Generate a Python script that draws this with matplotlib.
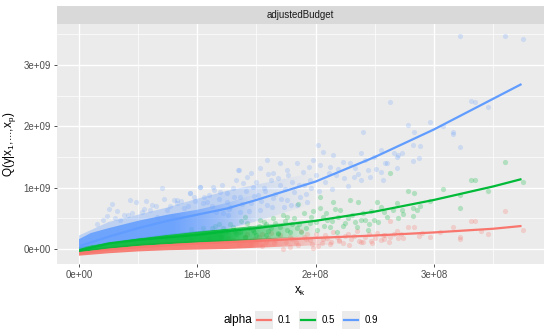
import numpy as np
import matplotlib
matplotlib.use("Agg")
import matplotlib.pyplot as plt
from matplotlib.lines import Line2D
from matplotlib.patches import Rectangle, Polygon
from matplotlib.colors import to_rgb

plt.rcParams['font.family'] = ['Liberation Sans', 'DejaVu Sans']

XS = 1e8
YS = 1e9

# ---------------- data (x in 1e8, y in 1e9) ----------------
quantiles = ["0.1", "0.5", "0.9"]
colors = {"0.1": "#F8766D", "0.5": "#00BA38", "0.9": "#619CFF"}

# fitted quantile curves
line_x = [0.01, 0.25, 0.5, 0.75, 1.0, 1.25, 1.5, 2.0, 2.5, 3.0, 3.5, 3.74]
line_q10 = [-0.07, -0.01, 0.03, 0.06, 0.09, 0.11, 0.13, 0.18, 0.22, 0.27, 0.33, 0.375]
line_q50 = [-0.02, 0.09, 0.15, 0.19, 0.23, 0.29, 0.34, 0.46, 0.61, 0.80, 1.02, 1.14]
line_q90 = [0.05, 0.20, 0.34, 0.46, 0.56, 0.66, 0.80, 1.10, 1.50, 1.95, 2.45, 2.69]

# dense (overplotted) cores of the point clouds
red_core_x = [0.0, 0.25, 0.5, 0.75, 1.0, 1.25, 1.5, 1.75, 2.0, 2.2]
red_core_lo = [-0.11, -0.07, -0.04, -0.02, -0.01, 0.0, 0.02, 0.04, 0.06, 0.08]
red_core_hi = [-0.02, 0.03, 0.08, 0.11, 0.13, 0.15, 0.17, 0.19, 0.21, 0.22]

green_core_x = [0.0, 0.25, 0.5, 0.75, 1.0, 1.25, 1.5, 1.75, 2.0]
green_core_lo = [-0.05, 0.0, 0.05, 0.08, 0.10, 0.12, 0.15, 0.18, 0.22]
green_core_hi = [0.03, 0.11, 0.18, 0.24, 0.29, 0.33, 0.38, 0.43, 0.48]

blue_core_x = [0.0, 0.1, 0.25, 0.5, 0.75, 1.0, 1.25, 1.5]
blue_core_lo = [0.0, 0.06, 0.10, 0.17, 0.23, 0.28, 0.33, 0.45]
blue_core_hi = [0.16, 0.26, 0.34, 0.46, 0.56, 0.64, 0.75, 0.90]

blue_halo_x = [0.0, 0.25, 0.5, 0.75, 1.0, 1.25, 1.5, 1.75, 2.0]
blue_halo_lo = [0.0, 0.10, 0.17, 0.23, 0.28, 0.33, 0.45, 0.60, 0.75]
blue_halo_hi = [0.22, 0.44, 0.56, 0.68, 0.82, 0.95, 1.05, 1.15, 1.25]

# individual (sparse) points
red_px = [1.30, 1.35, 1.40, 1.45, 1.50, 1.55, 1.60, 1.65, 1.70, 1.75, 1.80, 1.85,
          1.90, 1.95, 2.00, 2.05, 2.10, 2.15, 2.20, 2.25, 2.30, 2.35, 2.40, 2.45,
          2.50, 2.55, 1.88, 1.62, 2.02, 1.72, 1.55, 1.42, 1.78, 2.12, 2.28, 2.48,
          2.57, 2.63, 2.69, 2.74, 2.70, 2.78, 2.83, 2.87, 2.97, 3.16, 3.22, 3.22,
          3.31, 3.35, 3.46, 3.60, 3.75, 2.63, 2.59, 1.20, 1.10, 0.95, 1.98, 2.38,
          1.52, 1.58, 1.66, 1.78, 1.83, 1.92, 1.97, 2.08, 2.13, 2.18, 2.23, 2.27,
          2.32, 2.37, 2.42, 2.47, 2.52, 2.58, 2.62, 2.66, 1.48, 1.38, 1.26, 2.06,
          1.93, 2.20, 2.72, 2.90, 3.05, 3.40]
red_py = [0.15, 0.06, 0.20, 0.10, 0.13, 0.05, 0.18, 0.09, 0.22, 0.12, 0.16, 0.07,
          0.20, 0.14, 0.25, 0.10, 0.18, 0.28, 0.13, 0.21, 0.16, 0.30, 0.11, 0.24,
          0.18, 0.14, 0.30, 0.26, 0.05, 0.00, 0.25, 0.24, 0.03, 0.08, 0.06, 0.09,
          0.23, 0.20, 0.29, 0.18, 0.18, 0.36, 0.36, 0.21, 0.20, 0.36, 0.20, 0.16,
          0.46, 0.46, 0.24, 0.62, 0.31, 0.46, 0.23, 0.19, 0.17, 0.15, 0.02, 0.12,
          0.20, 0.12, 0.15, 0.20, 0.11, 0.17, 0.08, 0.22, 0.12, 0.19, 0.09, 0.25,
          0.21, 0.13, 0.19, 0.13, 0.26, 0.17, 0.12, 0.24, 0.17, 0.13, 0.18, 0.16,
          0.24, 0.15, 0.25, 0.26, 0.28, 0.30]

green_px = [1.85, 2.04, 2.15, 2.29, 2.36, 2.21, 2.06, 1.90, 1.76, 1.64, 1.53, 1.42,
            1.30, 1.95, 2.12, 2.27, 2.40, 2.49, 2.35, 2.55, 1.84, 1.62, 1.47, 1.36,
            2.01, 1.76, 2.18, 2.44, 2.60, 2.52, 2.04, 1.72, 2.38, 1.58, 1.68, 1.50,
            1.40, 1.25, 1.33, 2.25, 1.98, 2.10, 1.80, 2.45,
            2.63, 2.65, 2.69, 2.70, 2.73, 2.74, 2.78, 2.82, 2.82, 2.83, 2.86, 2.88,
            2.97, 3.08, 3.22, 3.22, 3.31, 3.35, 3.46, 3.60, 3.75, 1.15, 1.05, 0.95,
            1.22, 1.28, 1.32, 1.37, 1.44, 1.48, 1.52, 1.56, 1.60, 1.66, 1.70, 1.74,
            1.78, 1.82, 1.86, 1.92, 1.96, 2.00, 2.07, 2.09, 2.14, 2.19, 2.23, 2.31,
            2.33, 2.42, 2.47, 2.53, 2.58, 1.58, 1.68, 1.88, 2.16, 1.40, 1.12, 1.18]
green_py = [0.73, 0.67, 0.77, 0.80, 0.77, 0.64, 0.52, 0.59, 0.52, 0.50, 0.47, 0.42,
            0.36, 0.42, 0.36, 0.50, 0.59, 0.47, 0.36, 0.69, 0.34, 0.34, 0.31, 0.28,
            0.31, 0.31, 0.28, 0.31, 0.52, 0.77, 0.85, 0.55, 0.47, 0.40, 0.26, 0.22,
            0.20, 0.30, 0.25, 0.42, 0.62, 0.48, 0.40, 0.40,
            1.24, 0.64, 0.75, 0.51, 0.64, 0.57, 0.95, 0.67, 0.54, 0.91, 0.64, 0.70,
            0.78, 0.98, 0.88, 0.67, 1.13, 1.13, 0.95, 1.42, 1.09, 0.38, 0.35, 0.33,
            0.34, 0.40, 0.30, 0.45, 0.35, 0.28, 0.38, 0.44, 0.30, 0.42, 0.36, 0.46,
            0.28, 0.50, 0.40, 0.35, 0.52, 0.44, 0.38, 0.58, 0.46, 0.52, 0.37, 0.56,
            0.44, 0.48, 0.62, 0.44, 0.60, 0.22, 0.25, 0.28, 0.66, 0.52, 0.34, 0.40]

blue_px = [0.70, 0.43, 0.48, 0.57, 0.28, 0.25, 0.24, 0.35, 0.41, 0.53, 0.60, 0.66,
           0.80, 0.83, 0.94, 1.02, 1.06, 1.14, 1.19, 0.89, 0.74, 0.15, 0.20, 0.32,
           0.62, 0.77, 0.98, 1.10,
           1.35, 1.45, 1.53, 1.64, 1.76, 1.84, 1.94, 2.02, 2.04, 2.06, 2.15, 2.23,
           2.29, 2.40, 2.38, 2.44, 2.49, 2.55, 2.60, 2.17, 2.32, 2.38, 1.95, 1.90,
           1.80, 1.70, 1.62, 1.56, 1.47, 1.39, 1.30, 1.25, 1.36, 1.51, 1.64, 1.76,
           1.87, 1.84, 1.93, 1.73, 1.59, 1.45, 1.28, 1.22, 1.36, 1.53, 1.25, 1.42,
           1.70, 1.59, 2.12, 1.98, 2.46, 2.57, 1.34, 1.02, 0.94, 1.13, 0.83, 1.05,
           2.59, 2.55, 2.66, 2.69, 2.69, 2.70, 2.73, 2.82, 2.87, 2.88, 2.82, 3.16,
           3.22, 2.78, 2.83, 2.97, 3.08, 3.16, 2.63, 3.31, 3.35, 3.46, 3.22, 3.60,
           3.75,
           1.12, 1.18, 1.21, 1.27, 1.31, 1.33, 1.38, 1.41, 1.44, 1.48, 1.50, 1.54,
           1.57, 1.60, 1.63, 1.66, 1.68, 1.71, 1.74, 1.77, 1.79, 1.82, 1.86, 1.89,
           1.92, 1.96, 2.00, 2.03, 2.08, 2.11, 2.14, 2.19, 2.24, 2.27, 2.33, 2.36,
           2.42, 2.51, 1.16, 1.26, 0.86, 0.92, 0.97, 1.08, 0.55, 0.45, 0.65, 0.72,
           0.30, 0.38]
blue_py = [1.00, 0.80, 0.77, 0.78, 0.73, 0.65, 0.54, 0.47, 0.55, 0.60, 0.64, 0.52,
           0.80, 0.75, 0.91, 1.01, 0.85, 0.96, 0.93, 0.67, 0.64, 0.40, 0.48, 0.62,
           0.72, 0.70, 0.78, 0.88,
           1.29, 1.24, 1.32, 1.24, 1.29, 1.40, 1.34, 1.70, 1.37, 1.58, 1.53, 1.42,
           1.40, 1.91, 1.57, 1.29, 1.50, 1.62, 1.40, 1.21, 1.17, 1.13, 1.13, 1.04,
           1.09, 1.04, 1.13, 1.00, 1.01, 1.08, 1.00, 0.91, 0.85, 0.88, 0.83, 0.80,
           0.85, 0.72, 0.77, 0.69, 0.72, 0.75, 0.69, 0.59, 0.60, 0.64, 0.77, 1.17,
           1.40, 1.45, 1.34, 1.45, 1.17, 1.13, 1.29, 1.01, 0.91, 1.01, 0.80, 0.75,
           1.40, 1.26, 1.57, 1.50, 1.32, 1.53, 1.57, 1.44, 1.48, 1.68, 1.70, 1.88,
           1.67, 2.02, 1.91, 2.07, 2.00, 1.91, 2.40, 2.41, 2.40, 2.32, 3.48, 3.47,
           3.43,
           0.70, 0.82, 1.05, 0.66, 0.84, 1.12, 0.74, 0.95, 0.62, 0.86, 1.10, 0.78,
           0.94, 1.22, 0.68, 0.90, 1.15, 0.82, 0.98, 1.20, 0.72, 0.93, 1.05, 1.26,
           0.90, 1.00, 1.20, 0.95, 1.10, 1.24, 0.98, 1.30, 1.16, 1.02, 1.32, 1.22,
           1.45, 1.30, 0.60, 0.55, 0.78, 0.70, 0.84, 0.76, 0.66, 0.58, 0.70, 0.82,
           0.50, 0.55]

x_ticks = [0, 1, 2, 3]
x_ticklabels = ["0e+00", "1e+08", "2e+08", "3e+08"]
y_ticks = [0, 1, 2, 3]
y_ticklabels = ["0e+00", "1e+09", "2e+09", "3e+09"]

# ---------------- figure ----------------
W, H = 550, 333
fig = plt.figure(figsize=(W / 100, H / 100), dpi=100)
fig.patch.set_facecolor("white")

pl, pr, pt, pb = 57, 544, 24, 264
ax = fig.add_axes([pl / W, 1 - pb / H, (pr - pl) / W, (pb - pt) / H])
ax.set_facecolor("#EBEBEB")
for s in ax.spines.values():
    s.set_visible(False)

def sc(v, k):
    return np.asarray(v, dtype=float) * k


def faded_band(x, lo, hi, color, a_max, fade_from, z):
    """Filled band whose opacity fades out towards its right end."""
    xs = sc(x, XS)
    los = sc(lo, YS)
    his = sc(hi, YS)
    verts = np.column_stack([np.r_[xs, xs[::-1]], np.r_[his, los[::-1]]])
    poly = Polygon(verts, closed=True, facecolor="none", edgecolor="none",
                   transform=ax.transData)
    ax.add_patch(poly)
    n = 256
    gx = np.linspace(xs[0], xs[-1], n)
    f0 = fade_from * XS
    a = np.clip((xs[-1] - gx) / (xs[-1] - f0), 0, 1) * a_max
    rgb = to_rgb(color)
    img = np.zeros((1, n, 4))
    img[0, :, :3] = rgb
    img[0, :, 3] = a
    im = ax.imshow(img, extent=(xs[0], xs[-1], los.min(), his.max()),
                   aspect="auto", interpolation="bilinear", zorder=z, origin="lower")
    im.set_clip_path(poly)


faded_band(red_core_x, red_core_lo, red_core_hi, colors["0.1"], 0.92, 1.45, 2)
faded_band(green_core_x, green_core_lo, green_core_hi, colors["0.5"], 0.92, 1.2, 3)
faded_band(blue_halo_x, blue_halo_lo, blue_halo_hi, colors["0.9"], 0.32, 1.2, 4)
faded_band(blue_core_x, blue_core_lo, blue_core_hi, colors["0.9"], 0.85, 0.8, 4.1)

# points
ms = 14
ax.scatter(sc(red_px, XS), sc(red_py, YS), s=ms, color=colors["0.1"], alpha=0.25, lw=0, zorder=2)
ax.scatter(sc(green_px, XS), sc(green_py, YS), s=ms, color=colors["0.5"], alpha=0.25, lw=0, zorder=3)
ax.scatter(sc(blue_px, XS), sc(blue_py, YS), s=ms, color=colors["0.9"], alpha=0.22, lw=0, zorder=4)

# lines
lw = 1.6
ax.plot(sc(line_x, XS), sc(line_q10, YS), color=colors["0.1"], lw=lw, zorder=6, solid_capstyle="butt")
ax.plot(sc(line_x, XS), sc(line_q50, YS), color=colors["0.5"], lw=lw, zorder=6, solid_capstyle="butt")
ax.plot(sc(line_x, XS), sc(line_q90, YS), color=colors["0.9"], lw=lw, zorder=6, solid_capstyle="butt")

ax.set_xlim(-0.186 * XS, 3.93 * XS)
ax.set_ylim(-0.245 * YS, 3.67 * YS)
ax.set_xticks([t * XS for t in x_ticks])
ax.set_xticklabels(x_ticklabels)
ax.set_yticks([t * YS for t in y_ticks])
ax.set_yticklabels(y_ticklabels)
ax.set_xticks([(t + 0.5) * XS for t in x_ticks], minor=True)
ax.set_yticks([(t + 0.5) * YS for t in y_ticks], minor=True)
ax.grid(which="major", color="white", lw=1.0, zorder=1)
ax.grid(which="minor", color="white", lw=0.5, zorder=1)
ax.set_axisbelow(True)
ax.tick_params(which="major", length=2.5, width=0.6, color="#333333",
               labelsize=7, labelcolor="#4D4D4D", pad=2)
ax.tick_params(which="minor", length=0)

ax.set_xlabel(r"x$_\mathregular{k}$", fontsize=8.5, labelpad=3)
ax.set_ylabel(r"Q(y|x$_\mathregular{1}$,...,x$_\mathregular{p}$)", fontsize=8.5, labelpad=4)

# strip
sax = fig.add_axes([pl / W, 1 - pt / H, (pr - pl) / W, 18 / H])
sax.set_facecolor("#D9D9D9")
sax.set_xticks([]); sax.set_yticks([])
for s in sax.spines.values():
    s.set_visible(False)
sax.text(0.5, 0.5, "adjustedBudget", ha="center", va="center", fontsize=7,
         color="#1A1A1A", transform=sax.transAxes)

# legend (manual, horizontal, title on the left)
ly = 320
fig.text(223 / W, 1 - ly / H, "alpha", ha="left", va="center", fontsize=8.5, color="black")
key_x = [255, 299, 342]
for kx, q in zip(key_x, quantiles):
    fig.patches.append(Rectangle((kx / W, 1 - (ly + 9) / H), 18 / W, 18 / H,
                                 transform=fig.transFigure, facecolor="#EBEBEB",
                                 edgecolor="none"))
    fig.lines.append(Line2D([(kx + 2) / W, (kx + 16) / W], [1 - ly / H, 1 - ly / H],
                            transform=fig.transFigure, color=colors[q], lw=1.6))
    fig.text((kx + 23) / W, 1 - ly / H, q, ha="left", va="center", fontsize=7, color="black")

fig.savefig("out.png", dpi=100)
